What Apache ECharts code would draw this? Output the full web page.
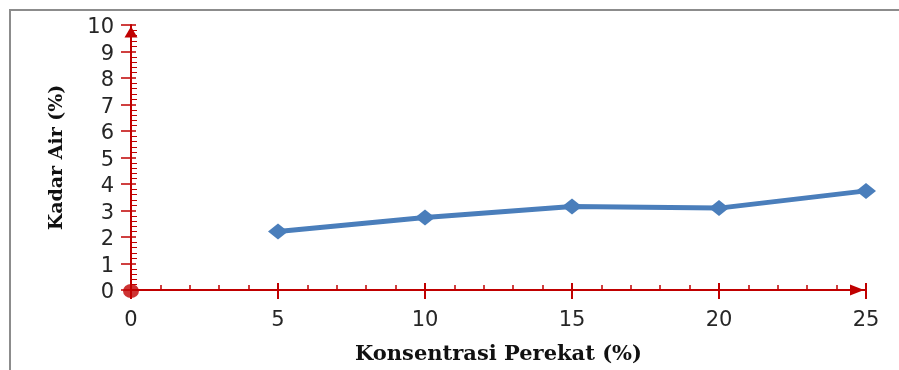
<!DOCTYPE html>
<html>
<head>
<meta charset="utf-8">
<script src="https://cdn.jsdelivr.net/npm/echarts@6/dist/echarts.min.js"></script>
<style>
  html, body { margin: 0; padding: 0; background: #fff; }
  #chart { width: 899px; height: 370px; }
</style>
</head>
<body>
<div id="chart"></div>
<script>
// Konsentrasi perekat (%) vs kadar air (%)
const konsentrasi = [5, 10, 15, 20, 25];
const kadarAir = [2.21, 2.74, 3.15, 3.09, 3.74];
const origin = [0, 0];

const xTitle = 'Konsentrasi Perekat (%)';
const yTitle = 'Kadar Air (%)';

const axisRed = '#c00000';
const lineBlue = '#4a7ebb';
const tickFont = { fontFamily: 'DejaVu Sans', fontSize: 21, color: '#262626' };

const points = konsentrasi.map((x, i) => [x, kadarAir[i]]);

const chart = echarts.init(document.getElementById('chart'), null, { renderer: 'canvas' });

const xBase = {
  type: 'value', min: 0, max: 25, interval: 5, position: 'bottom',
  splitLine: { show: false }
};
const yBase = {
  type: 'value', min: 0, max: 10, interval: 1, position: 'left',
  splitLine: { show: false }
};

chart.setOption({
  animation: false,
  grid: { left: 131, right: 33, top: 25, bottom: 77 },
  graphic: [{
    type: 'rect',
    shape: { x: 10, y: 10, width: 1000, height: 1000 },
    style: { fill: 'none', stroke: '#8c8c8c', lineWidth: 2 },
    silent: true
  }],
  xAxis: [
    Object.assign({}, xBase, {
      name: xTitle, nameLocation: 'middle', nameGap: 54,
      nameTextStyle: { fontFamily: 'DejaVu Serif', fontWeight: 'bold', fontSize: 21, color: '#111' },
      axisLine: {
        show: true, lineStyle: { color: axisRed, width: 2 },
        symbol: ['none', 'triangle'], symbolSize: [11, 14], symbolOffset: [0, -9]
      },
      axisTick: { show: true, inside: false, length: 9, lineStyle: { color: axisRed, width: 2 } },
      axisLabel: Object.assign({ margin: 20 }, tickFont)
    }),
    Object.assign({}, xBase, {
      axisLine: { show: false },
      axisTick: { show: true, inside: true, length: 7, lineStyle: { color: axisRed, width: 2 } },
      minorTick: { show: true, splitNumber: 5, length: 5, lineStyle: { color: axisRed, width: 1.5 } },
      axisLabel: { show: false }
    })
  ],
  yAxis: [
    Object.assign({}, yBase, {
      name: yTitle, nameLocation: 'middle', nameGap: 64,
      nameTextStyle: { fontFamily: 'DejaVu Serif', fontWeight: 'bold', fontSize: 19, color: '#111' },
      axisLine: {
        show: true, lineStyle: { color: axisRed, width: 2 },
        symbol: ['none', 'triangle'], symbolSize: [13, 11], symbolOffset: [0, -7]
      },
      axisTick: { show: true, inside: false, length: 10, lineStyle: { color: axisRed, width: 1.5 } },
      axisLabel: Object.assign({ margin: 17, verticalAlign: 'top', lineHeight: 6 }, tickFont)
    }),
    Object.assign({}, yBase, {
      axisLine: { show: false },
      axisTick: { show: true, inside: true, length: 5, lineStyle: { color: axisRed, width: 1.5 } },
      minorTick: { show: true, splitNumber: 5, length: 6, lineStyle: { color: axisRed, width: 1 } },
      axisLabel: { show: false }
    })
  ],
  series: [
    {
      name: yTitle,
      type: 'line',
      data: points,
      lineStyle: { color: lineBlue, width: 5 },
      itemStyle: { color: lineBlue },
      symbol: 'diamond',
      symbolSize: [20, 16],
      z: 5
    },
    {
      name: 'origin',
      type: 'scatter',
      data: [origin],
      symbol: 'circle',
      symbolSize: [16, 14],
      symbolOffset: [0, 1],
      itemStyle: { color: axisRed },
      z: 6
    }
  ]
});
</script>
</body>
</html>
